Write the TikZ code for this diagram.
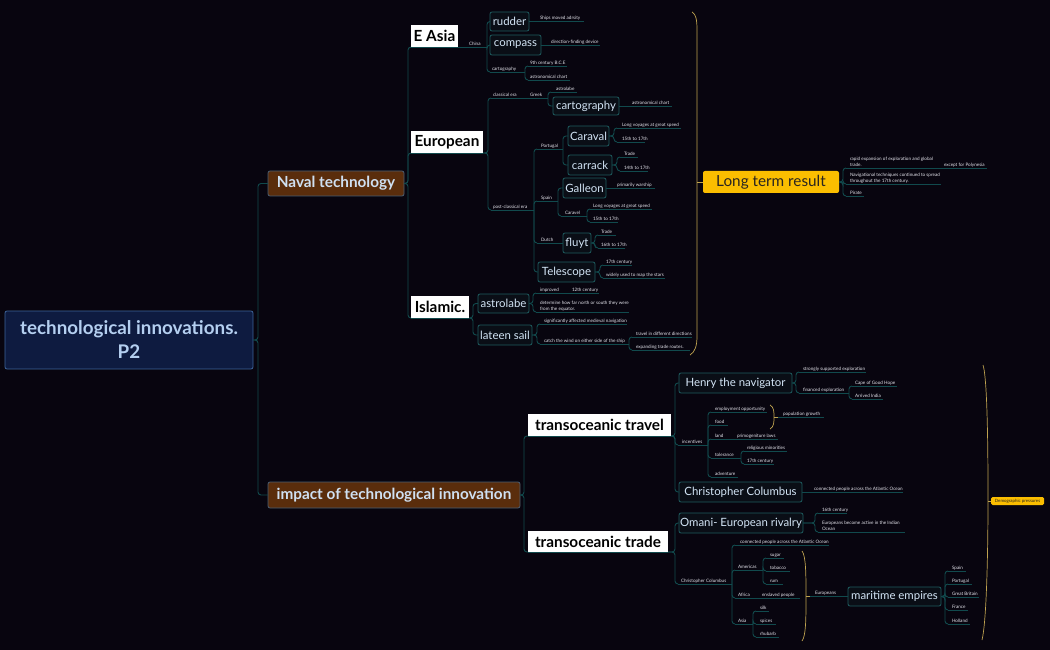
\documentclass[tikz,border=0pt]{standalone}
\usepackage{fontspec}
\setmainfont{Lato}
\definecolor{bg}{HTML}{08050F}
\definecolor{linec}{HTML}{114A4D}
\definecolor{tealb}{HTML}{1E5C5F}
\definecolor{tealf}{HTML}{0A0E16}
\definecolor{tealt}{HTML}{D3E5F6}
\definecolor{smt}{HTML}{E4E4EC}
\definecolor{rootf}{HTML}{0E1B40}
\definecolor{rootb}{HTML}{3D649A}
\definecolor{roott}{HTML}{B4CFF0}
\definecolor{brownf}{HTML}{5A2D0C}
\definecolor{brownb}{HTML}{4A5E72}
\definecolor{brownt}{HTML}{CFE0F2}
\definecolor{goldf}{HTML}{FBBE00}
\definecolor{goldt}{HTML}{2A2520}
\definecolor{bracec}{HTML}{BFA350}
\newcommand\bx[7]{\node[#1, minimum width={(#5-#3)*1pt}, minimum height={(#6-#4)*1pt}] (#2) at ({(#3+#5)/2},{(#4+#6)/2}) {#7};}
\newcommand\lab[6]{\coordinate (#1-l) at (#2,#4); \coordinate (#1-r) at (#3,#4); \draw[ul] (#1-l) -- (#1-r); \node[sm] (#1) at (#5,#4) {#6};}
\begin{document}
\begin{tikzpicture}[x=1pt,y=-1pt,
  ln/.style={draw=linec, line width=0.9pt, rounded corners=3pt},
  ul/.style={draw=linec, line width=0.9pt},
  br/.style={draw=bracec, line width=0.7pt},
  base/.style={inner sep=0pt, outer sep=0pt, line width=0.8pt, rounded corners=2pt},
  tb/.style={base, draw=tealb, fill=tealf, text=tealt, font=\fontsize{11.4}{13}\selectfont},
  wb/.style={base, fill=white, rounded corners=0pt, text=black, font=\bfseries\fontsize{15.3}{17}\selectfont},
  rb/.style={base, draw=rootb, fill=rootf, text=roott, align=center, font=\bfseries\fontsize{18.8}{24}\selectfont},
  nb/.style={base, draw=brownb, fill=brownf, text=brownt, font=\bfseries\fontsize{15.3}{17}\selectfont},
  gb/.style={base, fill=goldf, text=goldt},
  sm/.style={anchor=south west, inner sep=0pt, outer sep=0pt, yshift=1pt, text=smt, align=left, font=\fontsize{4.6}{6}\selectfont},
]
\fill[bg] (0,0) rectangle (1050,650);
\useasboundingbox (0,0) rectangle (1050,650);

% ---------- boxes
\bx{rb}{root}{5}{311}{253}{369}{technological innovations.\\P2}
\bx{nb}{naval}{268}{171}{404}{196}{Naval technology}
\bx{nb}{impact}{268}{482}{520}{508}{impact of technological innovation}
\bx{wb}{easia}{411}{25}{458}{47}{E Asia}
\bx{wb}{european}{411}{131}{483}{153}{European}
\bx{wb}{islamic}{411}{296}{469}{318}{Islamic.}
\bx{wb}{travel}{528}{414}{671}{436}{transoceanic travel}
\bx{wb}{tradeb}{528}{531}{668}{552}{transoceanic trade}
\bx{tb}{rudder}{490}{12}{529}{31}{rudder}
\bx{tb}{compass}{490}{35}{541}{55}{compass}
\bx{tb}{cartog}{553}{97}{619}{115}{cartography}
\bx{tb}{caraval}{568}{126}{609}{146}{Caraval}
\bx{tb}{carrack}{568}{155}{612}{175}{carrack}
\bx{tb}{galleon}{563}{178}{606}{198}{Galleon}
\bx{tb}{fluyt}{563}{233}{591}{253}{fluyt}
\bx{tb}{telescope}{538}{262}{595}{282}{Telescope}
\bx{tb}{astrolabei}{478}{294}{529}{313}{astrolabe}
\bx{tb}{lateen}{478}{325}{532}{345}{lateen sail}
\bx{tb}{henry}{679}{373}{792}{393}{Henry the navigator}
\bx{tb}{columbus}{679}{482}{802}{502}{Christopher Columbus}
\bx{tb}{omani}{679}{513}{803}{533}{Omani- European rivalry}
\bx{tb}{maritime}{848}{587}{941}{606}{maritime empires}
\bx{gb,font=\fontsize{15.3}{17}\selectfont}{longterm}{703}{171}{839}{193}{Long term result}
\bx{gb,font=\fontsize{4.4}{5}\selectfont,rounded corners=1.5pt}{demo}{991}{497}{1044}{505}{Demographic pressures}

% ---------- labels: E Asia
\lab{china}{458}{487}{47}{469}{China}
\lab{ships}{529}{584}{21.5}{540}{Ships moved adrsity}
\lab{dirf}{541}{600}{45}{551}{direction-finding device}
\lab{cartoe}{490}{525}{72}{492}{cartography}
\lab{bce}{528}{567}{66}{530}{9th century B.C.E}
\lab{astc1}{528}{570}{80}{530}{astronomical chart}
% European
\lab{classical}{491}{522}{98}{493}{classical era}
\lab{greek}{522}{548}{98}{530}{Greek}
\lab{astrog}{551}{577}{92}{556}{astrolabe}
\lab{astc2}{619}{672}{106}{632}{astronomical chart}
\lab{postc}{491}{534}{210}{493}{post-classical era}
\lab{portugal}{537}{563}{149}{541}{Portugal}
\lab{longv1}{617}{681}{128}{622}{Long voyages at great speed}
\lab{c1517a}{617}{645}{142}{622}{15th to 17th}
\lab{trade1}{620}{638}{157}{624}{Trade}
\lab{c1417}{620}{648}{171}{624}{14th to 17th}
\lab{spain}{537}{558}{201}{541}{Spain}
\lab{warship}{606}{655}{188}{617}{primarily warship}
\lab{caravel}{561}{587}{216}{565}{Caravel}
\lab{longv2}{590}{652}{209}{593}{Long voyages at great speed}
\lab{c1517b}{590}{618}{222}{593}{15th to 17th}
\lab{dutch}{537}{563}{243}{541}{Dutch}
\lab{trade2}{598}{616}{235}{601}{Trade}
\lab{c1617}{598}{625}{248}{601}{16th to 17th}
\lab{c17a}{603}{632}{265}{606}{17th century}
\lab{stars}{603}{665}{278}{606}{widely used to map the stars}
% Islamic
\lab{improved}{536}{565}{293}{540}{improved}
\lab{c12}{565}{599}{293}{572}{12th century}
\lab{determine}{536}{629}{312}{540}{determine how far north or south they were\\from the equator.}
\lab{sig}{540}{627}{324}{544}{significantly affected medieval navigation}
\lab{catch}{540}{629}{344}{544}{catch the wind on either side of the ship}
\lab{tdir}{632}{692}{337}{636}{travel in different directions}
\lab{expand}{632}{690}{350}{636}{expanding trade routes.}
% Long term
\lab{rapid}{846}{940}{168}{850}{rapid expansion of exploration and global\\trade.}
\lab{polyn}{940}{987}{168}{944}{except for Polynesia}
\lab{navtech}{846}{941}{184}{850}{Navigational techniques continued to spread\\throughout the 17th century.}
\lab{pirate}{846}{864}{196}{850}{Pirate}
% travel
\lab{incent}{678}{708}{445}{682}{incentives}
\lab{employ}{711}{767}{412}{715}{employment opportunity}
\lab{food}{711}{728}{425}{715}{food}
\lab{land}{711}{729}{439}{715}{land}
\lab{primo}{729}{778}{439}{737}{primogeniture laws}
\lab{toler}{711}{741}{458}{715}{tolerance}
\lab{relig}{744}{787}{451}{747}{religious minorities}
\lab{c17b}{744}{774}{464}{747}{17th century}
\lab{advent}{711}{738}{477}{715}{adventure}
\lab{popg}{778}{824}{417}{783}{population growth}
\lab{strong}{799}{866}{372}{803}{strongly supported exploration}
\lab{financed}{799}{849}{393}{803}{financed exploration}
\lab{cape}{852}{897}{386}{855}{Cape of Good Hope}
\lab{india}{852}{883}{399}{855}{Arrived India}
\lab{catl1}{802}{903}{492}{814}{connected people across the Atlantic Ocean}
% trade
\lab{coll}{678}{732}{584}{681}{Christopher Columbus}
\lab{c16}{818}{847}{513}{822}{16th century}
\lab{euact}{818}{905}{532}{822}{Europeans become active in the Indian\\Ocean}
\lab{catl2}{735}{829}{545}{740}{connected people across the Atlantic Ocean}
\lab{americas}{735}{763}{570}{738}{Americas}
\lab{sugar}{766}{784}{558}{770}{sugar}
\lab{tobacco}{766}{790}{571}{770}{tobacco}
\lab{rum}{766}{783}{584}{770}{rum}
\lab{africa}{735}{757}{598}{738}{Africa}
\lab{enslaved}{757}{800}{598}{762}{enslaved people}
\lab{asia}{735}{753}{624}{738}{Asia}
\lab{silk}{756}{769}{611}{760}{silk}
\lab{spices}{756}{776}{624}{760}{spices}
\lab{rhubarb}{756}{779}{637}{760}{rhubarb}
\lab{europeans}{810}{848}{596.5}{815}{Europeans}
\lab{spain2}{948}{966}{571}{952}{Spain}
\lab{portugal2}{948}{972}{584}{952}{Portugal}
\lab{gbrit}{948}{979}{597}{952}{Great Britain}
\lab{france}{948}{968}{610}{952}{France}
\lab{holland}{948}{970}{624}{952}{Holland}

% ---------- connectors
\draw[ln] (root.east) -- ++(5,0) |- (naval.west);
\draw[ln] (root.east) -- ++(5,0) |- (impact.west);
\draw[ln] (naval.east) -- ++(4,0) |- (easia.south west);
\draw[ln] (naval.east) -- ++(4,0) |- (european.south west);
\draw[ln] (naval.east) -- ++(4,0) |- (islamic.south west);
\draw[ul] (easia.south west) -- (easia.south east);
\draw[ul] (european.south west) -- (european.south east);
\draw[ul] (islamic.south west) -- (islamic.south east);
% E Asia
\draw[ln] (china-r) |- (rudder.west);
\draw[ln] (china-r) |- (compass.west);
\draw[ln] (china-r) |- (cartoe-l);
\draw[ln] (cartoe-r) |- (bce-l);
\draw[ln] (cartoe-r) |- (astc1-l);
% European
\draw[ln] (european.south east) -- ++(5,0) |- (classical-l);
\draw[ln] (european.south east) -- ++(5,0) |- (postc-l);
\draw[ln] (greek-r) |- (astrog-l);
\draw[ln] (greek-r) |- (cartog.west);
\draw[ln] (postc-r) |- (portugal-l);
\draw[ln] (postc-r) |- (spain-l);
\draw[ln] (postc-r) |- (dutch-l);
\draw[ln] (postc-r) |- (telescope.west);
\draw[ln] (portugal-r) |- (caraval.west);
\draw[ln] (portugal-r) |- (carrack.west);
\draw[ln] (caraval.east) -- ++(5,0) |- (longv1-l);
\draw[ln] (caraval.east) -- ++(5,0) |- (c1517a-l);
\draw[ln] (carrack.east) -- ++(5,0) |- (trade1-l);
\draw[ln] (carrack.east) -- ++(5,0) |- (c1417-l);
\draw[ln] (spain-r) |- (galleon.west);
\draw[ln] (spain-r) |- (caravel-l);
\draw[ln] (caravel-r) |- (longv2-l);
\draw[ln] (caravel-r) |- (c1517b-l);
\draw[ln] (dutch-r) -- (fluyt.west);
\draw[ln] (fluyt.east) -- ++(4,0) |- (trade2-l);
\draw[ln] (fluyt.east) -- ++(4,0) |- (c1617-l);
\draw[ln] (telescope.east) -- ++(5,0) |- (c17a-l);
\draw[ln] (telescope.east) -- ++(5,0) |- (stars-l);
% Islamic
\draw[ln] (islamic.south east) -- ++(4,0) |- (astrolabei.west);
\draw[ln] (islamic.south east) -- ++(4,0) |- (lateen.west);
\draw[ln] (astrolabei.east) -- ++(4,0) |- (improved-l);
\draw[ln] (astrolabei.east) -- ++(4,0) |- (determine-l);
\draw[ln] (lateen.east) -- ++(5,0) |- (sig-l);
\draw[ln] (lateen.east) -- ++(5,0) |- (catch-l);
\draw[ln] (catch-r) |- (tdir-l);
\draw[ln] (catch-r) |- (expand-l);
% long term
\draw[br] (692,12) .. controls (696,14) and (697,20) .. (697,30) -- (697,336) .. controls (697,346) and (695,352) .. (690,355);
\draw[br] (697,182) -- (longterm.west);
\draw[ln] (longterm.east) -- ++(4,0) |- (rapid-l);
\draw[ln] (longterm.east) -- ++(4,0) |- (navtech-l);
\draw[ln] (longterm.east) -- ++(4,0) |- (pirate-l);
% impact
\draw[ln] (impact.east) -- ++(4,0) |- (travel.south west);
\draw[ln] (impact.east) -- ++(4,0) |- (tradeb.south west);
\draw[ul] (travel.south west) -- (travel.south east);
\draw[ul] (tradeb.south west) -- (tradeb.south east);
\draw[ln] (travel.south east) -- ++(4,0) |- (henry.west);
\draw[ln] (travel.south east) -- ++(4,0) |- (incent-l);
\draw[ln] (travel.south east) -- ++(4,0) |- (columbus.west);
\draw[ln] (henry.east) -- ++(4,0) |- (strong-l);
\draw[ln] (henry.east) -- ++(4,0) |- (financed-l);
\draw[ln] (financed-r) |- (cape-l);
\draw[ln] (financed-r) |- (india-l);
\draw[ln] (incent-r) |- (employ-l);
\draw[ln] (incent-r) |- (food-l);
\draw[ln] (incent-r) |- (land-l);
\draw[ln] (incent-r) |- (toler-l);
\draw[ln] (incent-r) |- (advent-l);
\draw[ln] (toler-r) |- (relig-l);
\draw[ln] (toler-r) |- (c17b-l);
\draw[br] (770,405) .. controls (774,407) and (774,412) .. (774,417) .. controls (774,422) and (774,427) .. (770,429);
\draw[br] (774,417) -- (popg-l);
% trade
\draw[ln] (tradeb.south east) -- ++(7,0) |- (omani.west);
\draw[ln] (tradeb.south east) -- ++(7,0) |- (coll-l);
\draw[ln] (omani.east) -- ++(12,0) |- (c16-l);
\draw[ln] (omani.east) -- ++(12,0) |- (euact-l);
\draw[ln] (coll-r) |- (catl2-l);
\draw[ln] (coll-r) |- (americas-l);
\draw[ln] (coll-r) |- (africa-l);
\draw[ln] (coll-r) |- (asia-l);
\draw[ln] (americas-r) |- (sugar-l);
\draw[ln] (americas-r) |- (tobacco-l);
\draw[ln] (americas-r) |- (rum-l);
\draw[ln] (asia-r) |- (silk-l);
\draw[ln] (asia-r) |- (spices-l);
\draw[ln] (asia-r) |- (rhubarb-l);
\draw[br] (802,551) .. controls (806,556) and (806,575) .. (806,596.5) .. controls (806,618) and (806,636) .. (802,641);
\draw[br] (806,596.5) -- (europeans-l);
\draw[ln] (maritime.east) -- ++(4,0) |- (spain2-l);
\draw[ln] (maritime.east) -- ++(4,0) |- (portugal2-l);
\draw[ln] (maritime.east) -- ++(4,0) |- (gbrit-l);
\draw[ln] (maritime.east) -- ++(4,0) |- (france-l);
\draw[ln] (maritime.east) -- ++(4,0) |- (holland-l);
% demographic brace
\draw[br] (983,365) .. controls (988,380) and (988,470) .. (988,501) .. controls (988,540) and (987,620) .. (982,640);
\draw[br] (988,501) -- (demo.west);
\end{tikzpicture}
\end{document}
